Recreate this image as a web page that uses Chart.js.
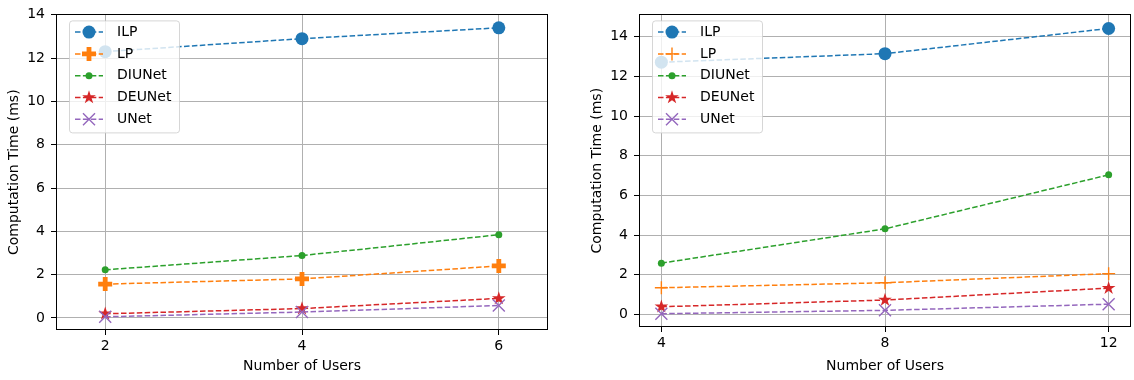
<!DOCTYPE html>
<html>
<head>
<meta charset="utf-8">
<script src="https://cdn.jsdelivr.net/npm/chart.js@4/dist/chart.umd.min.js"></script>
<style>
    html, body { margin: 0; padding: 0; background: #fff; }
    #wrap { position: relative; width: 1134px; height: 380px; }
    .panel { position: absolute; top: 0; }
</style>
</head>
<body>
<div id="wrap">
    <canvas id="left-graph" class="panel" style="left:0" width="560" height="380"></canvas>
    <canvas id="right-graph" class="panel" style="left:570px" width="564" height="380"></canvas>
</div>
<script>
;(function () {
    'use strict';

    // ---- data ----
    var seriesNames = ['ILP', 'LP', 'DIUNet', 'DEUNet', 'UNet'];
    var seriesColors = ['#1f77b4', '#ff7f0e', '#2ca02c', '#d62728', '#9467bd'];
    var yTicks = [0, 2, 4, 6, 8, 10, 12, 14];

    // left panel
    var usersLeft = [2, 4, 6];
    var ilpLeft = [12.3, 12.9, 13.4];
    var lpLeft = [1.56, 1.8, 2.4];
    var diunetLeft = [2.22, 2.88, 3.84];
    var deunetLeft = [0.19, 0.43, 0.9];
    var unetLeft = [0.05, 0.27, 0.57];

    // right panel
    var usersRight = [4, 8, 12];
    var ilpRight = [12.72, 13.15, 14.42];
    var lpRight = [1.35, 1.6, 2.06];
    var diunetRight = [2.59, 4.32, 7.04];
    var deunetRight = [0.39, 0.73, 1.33];
    var unetRight = [0.04, 0.21, 0.52];

    var FONT = 'DejaVu Sans';
    var FONT_SIZE = 14;

    Chart.defaults.font.family = FONT;
    Chart.defaults.font.size = FONT_SIZE;
    Chart.defaults.color = '#000';

    // ---- markers (matplotlib-like) ----
    function paintMarker(ctx, kind, color) {
        ctx.fillStyle = color;
        ctx.strokeStyle = color;
        ctx.lineWidth = 1.4;
        ctx.setLineDash([]);
        ctx.beginPath();
        if (kind === 'bigdot') {
            ctx.arc(0, 0, 6.5, 0, Math.PI * 2);
            ctx.fill();
        } else if (kind === 'dot') {
            ctx.arc(0, 0, 3.5, 0, Math.PI * 2);
            ctx.fill();
        } else if (kind === 'plusFilled') {
            var a = 7, w = 2.4;
            ctx.moveTo(-a, -w); ctx.lineTo(-w, -w); ctx.lineTo(-w, -a);
            ctx.lineTo(w, -a); ctx.lineTo(w, -w); ctx.lineTo(a, -w);
            ctx.lineTo(a, w); ctx.lineTo(w, w); ctx.lineTo(w, a);
            ctx.lineTo(-w, a); ctx.lineTo(-w, w); ctx.lineTo(-a, w);
            ctx.closePath();
            ctx.fill();
        } else if (kind === 'plus') {
            ctx.moveTo(-6.5, 0); ctx.lineTo(6.5, 0);
            ctx.moveTo(0, -6.5); ctx.lineTo(0, 6.5);
            ctx.stroke();
        } else if (kind === 'star') {
            var ro = 7.2, ri = ro * 0.382;
            for (var k = 0; k < 10; k++) {
                var r = k % 2 === 0 ? ro : ri;
                var ang = -Math.PI / 2 + k * Math.PI / 5;
                var px = r * Math.cos(ang), py = r * Math.sin(ang);
                if (k === 0) ctx.moveTo(px, py); else ctx.lineTo(px, py);
            }
            ctx.closePath();
            ctx.fill();
        } else if (kind === 'x') {
            ctx.moveTo(-6, -6); ctx.lineTo(6, 6);
            ctx.moveTo(-6, 6); ctx.lineTo(6, -6);
            ctx.stroke();
        }
    }

    // markers drawn per dataset, right after its line, at the points the scales computed
    var markerPlugin = {
        id: 'markers',
        afterDatasetDraw: function (chart, args) {
            var ds = chart.data.datasets[args.index];
            var ctx = chart.ctx;
            args.meta.data.forEach(function (pt) {
                ctx.save();
                ctx.translate(pt.x, pt.y);
                paintMarker(ctx, ds.marker, ds.borderColor);
                ctx.restore();
            });
        }
    };

    // ---- spines + legend ----
    var framePlugin = {
        id: 'frame',
        afterDraw: function (chart) {
            var a = chart.chartArea, ctx = chart.ctx;
            ctx.save();
            ctx.strokeStyle = '#000';
            ctx.lineWidth = 1;
            ctx.strokeRect(Math.round(a.left) + 0.5, Math.round(a.top) + 0.5,
                Math.round(a.right - a.left) - 1, Math.round(a.bottom - a.top) - 1);

            var bx = a.left + 13, by = a.top + 6, bw = 110, bh = 112;
            ctx.globalAlpha = 0.8;
            ctx.beginPath();
            ctx.roundRect(bx + 0.5, by + 0.5, bw, bh, 3);
            ctx.fillStyle = '#fff';
            ctx.fill();
            ctx.strokeStyle = '#cccccc';
            ctx.stroke();
            ctx.globalAlpha = 1;

            chart.data.datasets.forEach(function (ds, i) {
                var y = by + 11.7 + i * 21.8;
                ctx.strokeStyle = ds.borderColor;
                ctx.lineWidth = 1.5;
                ctx.setLineDash([5.5, 2.4]);
                ctx.beginPath();
                ctx.moveTo(bx + 6, y);
                ctx.lineTo(bx + 34, y);
                ctx.stroke();
                ctx.save();
                ctx.translate(bx + 20, y);
                paintMarker(ctx, ds.marker, ds.borderColor);
                ctx.restore();
                ctx.fillStyle = '#000';
                ctx.font = FONT_SIZE + 'px "' + FONT + '"';
                ctx.textBaseline = 'middle';
                ctx.fillText(ds.label, bx + 48, y);
            });
            ctx.restore();
        }
    };

    function buildDatasets(users, series, markers) {
        return series.map(function (vals, i) {
            return {
                label: seriesNames[i],
                data: users.map(function (u, j) { return { x: u, y: vals[j] }; }),
                borderColor: seriesColors[i],
                backgroundColor: seriesColors[i],
                borderWidth: 1.5,
                borderDash: [5.5, 2.4],
                marker: markers[i],
                pointRadius: 0,
                tension: 0,
                order: 5 - i
            };
        });
    }

    function drawPanel(el, users, series, markers, geo) {
        return new Chart(el, {
            type: 'line',
            data: { datasets: buildDatasets(users, series, markers) },
            plugins: [markerPlugin, framePlugin],
            options: {
                responsive: false,
                animation: false,
                layout: { padding: geo.padding },
                plugins: { legend: { display: false }, tooltip: { enabled: false } },
                scales: {
                    x: {
                        type: 'linear',
                        min: geo.xmin,
                        max: geo.xmax,
                        afterBuildTicks: function (s) { s.ticks = users.map(function (v) { return { value: v }; }); },
                        afterFit: function (s) { s.height = geo.xHeight; },
                        grid: { color: '#b0b0b0', lineWidth: 1, tickLength: 5, tickColor: '#000' },
                        border: { display: false },
                        ticks: { color: '#000', padding: 3, maxRotation: 0 },
                        title: { display: true, text: 'Number of Users', color: '#000', padding: { top: 0, bottom: 5.6 } }
                    },
                    y: {
                        min: geo.ymin,
                        max: geo.ymax,
                        afterBuildTicks: function (s) { s.ticks = yTicks.map(function (v) { return { value: v }; }); },
                        afterFit: function (s) { s.width = 56; },
                        grid: { color: '#b0b0b0', lineWidth: 1, tickLength: 5, tickColor: '#000' },
                        border: { display: false },
                        ticks: { color: '#000', padding: 6 },
                        title: { display: true, text: 'Computation Time (ms)', color: '#000', padding: { top: 5.6, bottom: 0 } }
                    }
                }
            }
        });
    }

    drawPanel(document.getElementById('left-graph'), usersLeft,
        [ilpLeft, lpLeft, diunetLeft, deunetLeft, unetLeft],
        ['bigdot', 'plusFilled', 'dot', 'star', 'x'],
        { padding: { left: 0, right: 12, top: 11, bottom: 0 }, xHeight: 50,
          xmin: 1.5, xmax: 6.5, ymin: -0.56, ymax: 14.02 });

    drawPanel(document.getElementById('right-graph'), usersRight,
        [ilpRight, lpRight, diunetRight, deunetRight, unetRight],
        ['bigdot', 'plus', 'dot', 'star', 'x'],
        { padding: { left: 13, right: 3, top: 8, bottom: 0 }, xHeight: 53,
          xmin: 3.6, xmax: 12.4, ymin: -0.63, ymax: 15.13 });
})();
</script>
</body>
</html>
